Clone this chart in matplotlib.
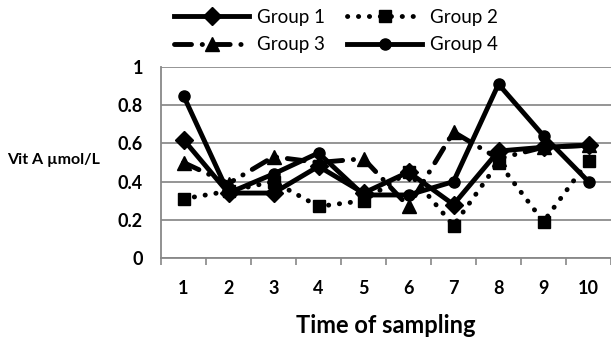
import numpy as np
import matplotlib
matplotlib.use("Agg")
import matplotlib.pyplot as plt

samples = [1, 2, 3, 4, 5, 6, 7, 8, 9, 10]
group1 = [0.62, 0.34, 0.34, 0.48, 0.34, 0.45, 0.28, 0.56, 0.58, 0.59]
group2 = [0.31, 0.35, 0.40, 0.27, 0.30, 0.45, 0.17, 0.50, 0.19, 0.51]
group3 = [0.50, 0.39, 0.53, 0.50, 0.52, 0.27, 0.66, 0.52, 0.58, 0.59]
group4 = [0.85, 0.34, 0.44, 0.55, 0.33, 0.33, 0.40, 0.91, 0.64, 0.40]
yticks = [0, 0.2, 0.4, 0.6, 0.8, 1]
ytick_labels = ["0", "0.2", "0.4", "0.6", "0.8", "1"]

plt.rcParams['font.family'] = ['Lato', 'DejaVu Sans']

fig = plt.figure(figsize=(6.11, 3.38), dpi=100)
ax = fig.add_axes([161/611, 1-258/338, 450/611, 191/338])

lw = 3.5
l1, = ax.plot(samples, group1, '-', color='black', lw=lw, marker='D', markersize=9,
              solid_joinstyle='round', label='Group 1')
l2, = ax.plot(samples, group2, color='black', lw=lw, marker='s', markersize=9,
              linestyle=(0, (0.05, 2.2)), dash_capstyle='round', label='Group 2')
l3, = ax.plot(samples, group3, color='black', lw=lw, marker='^', markersize=10,
              linestyle=(0, (3.5, 2.2, 0.05, 2.2)), dash_capstyle='round', label='Group 3')
l4, = ax.plot(samples, group4, '-', color='black', lw=lw, marker='o', markersize=8,
              solid_joinstyle='round', label='Group 4')

ax.set_xlim(0.5, 10.5)
ax.set_ylim(0, 1)
ax.set_yticks(yticks)
ax.set_yticklabels(ytick_labels, fontsize=13, fontweight='bold')
ax.set_xticks(samples)
ax.set_xticklabels([str(s) for s in samples], fontsize=13, fontweight='bold')
ax.set_xticks(np.arange(0.5, 11, 1), minor=True)
ax.tick_params(axis='x', which='major', length=0, pad=16)
ax.tick_params(axis='x', which='minor', length=5, width=1.2, color='#888888', direction='out')
ax.tick_params(axis='y', length=0, pad=13)

ax.grid(axis='y', color='#8c8c8c', lw=1.3)
ax.set_axisbelow(True)
for s in ['top', 'right']:
    ax.spines[s].set_visible(False)
for s in ['left', 'bottom']:
    ax.spines[s].set_color('#888888')
    ax.spines[s].set_linewidth(1.3)

ax.set_xlabel('Time of sampling', fontsize=17, fontweight='bold', labelpad=12)
fig.text(0.012, 1-160/338, 'Vit A \u00b5mol/L', fontsize=11.5, fontweight='bold',
         va='center', ha='left')

fig.legend([l1, l3, l2, l4], ['Group 1', 'Group 3', 'Group 2', 'Group 4'],
           ncol=2, loc='center', bbox_to_anchor=(0.55, 1-31/338), frameon=False,
           fontsize=13.5, handlelength=4.0, columnspacing=1.2, handletextpad=0.4,
           labelspacing=0.55, borderaxespad=0)

fig.savefig('out.png', dpi=100)
